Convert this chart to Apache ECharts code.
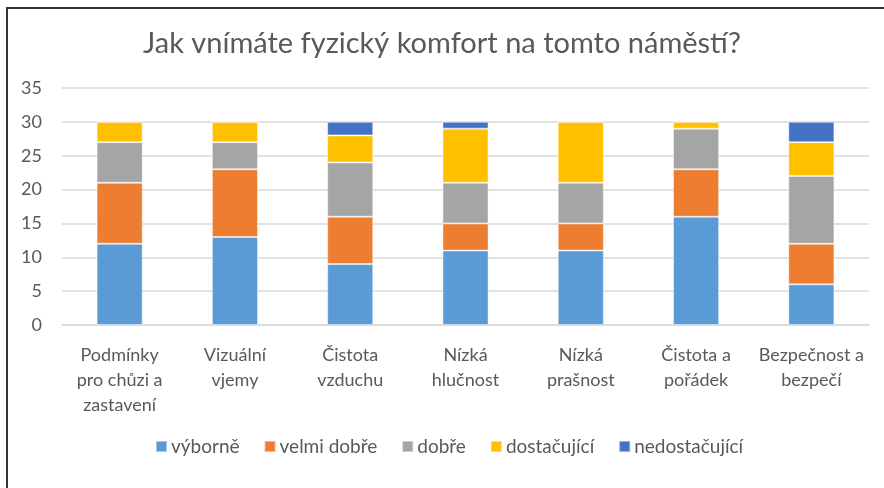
<!DOCTYPE html>
<html>
<head>
<meta charset="utf-8">
<script src="https://cdn.jsdelivr.net/npm/echarts@6/dist/echarts.min.js"></script>
<style>
  html, body { margin: 0; padding: 0; background: #fff; }
  #frame { position: absolute; left: 6px; top: 7px; width: 884px; height: 488px;
           border-left: 2px solid #333; border-top: 2px solid #333; }
  #chart { position: absolute; left: 0; top: 0; width: 884px; height: 488px; }
</style>
</head>
<body>
<div id="frame"></div>
<div id="chart"></div>
<script>
// kategorie a hodnoty
var categories = ['Podmínky\npro chůzi a\nzastavení', 'Vizuální\nvjemy', 'Čistota\nvzduchu',
  'Nízká\nhlučnost', 'Nízká\nprašnost', 'Čistota a\npořádek', 'Bezpečnost a\nbezpečí']
var seriesNames = ['výborně', 'velmi dobře', 'dobře', 'dostačující', 'nedostačující']
var vyborne = [12, 13, 9, 11, 11, 16, 6]
var velmiDobre = [9, 10, 7, 4, 4, 7, 6]
var dobre = [6, 4, 8, 6, 6, 6, 10]
var dostacujici = [3, 3, 4, 8, 9, 1, 5]
var nedostacujici = [0, 0, 2, 1, 0, 0, 3]
var yTicks = [0, 5, 10, 15, 20, 25, 30, 35]

var colors = ['#5B9BD5', '#ED7D31', '#A5A5A5', '#FFC000', '#4472C4']
var font = 'Lato, "Open Sans", sans-serif'
var values = [vyborne, velmiDobre, dobre, dostacujici, nedostacujici]

var chart = echarts.init(document.getElementById('chart'))
chart.setOption({
  color: colors,
  animation: false,
  title: {
    text: 'Jak vnímáte fyzický komfort na tomto náměstí?',
    left: 'center',
    top: 24,
    textStyle: { fontFamily: font, fontSize: 29, fontWeight: 'normal', color: '#595959' }
  },
  legend: {
    data: seriesNames,
    bottom: 27,
    left: 150,
    itemWidth: 11,
    itemHeight: 11,
    itemGap: 24,
    icon: 'rect',
    textStyle: { fontFamily: font, fontSize: 19, color: '#595959', padding: [0, 0, 0, -1] }
  },
  grid: { left: 62, right: 15, top: 88, bottom: 163, containLabel: false },
  xAxis: {
    type: 'category',
    data: categories,
    axisTick: { show: false },
    axisLine: { lineStyle: { color: '#d9d9d9', width: 1.5 } },
    axisLabel: { interval: 0, fontFamily: font, fontSize: 18, color: '#595959', lineHeight: 25, margin: 18 }
  },
  yAxis: {
    type: 'value',
    min: yTicks[0],
    max: yTicks[yTicks.length - 1],
    interval: 5,
    axisLine: { show: false },
    axisTick: { show: false },
    splitLine: { lineStyle: { color: '#d9d9d9', width: 1.5 } },
    axisLabel: { fontFamily: font, fontSize: 18, color: '#595959', margin: 20 }
  },
  series: seriesNames.map(function (name, i) {
    return {
      name: name,
      type: 'bar',
      stack: 'total',
      barWidth: '40%',
      data: values[i],
      itemStyle: { borderColor: 'rgba(255,255,255,0.45)', borderWidth: 1 }
    }
  })
})
</script>
</body>
</html>
